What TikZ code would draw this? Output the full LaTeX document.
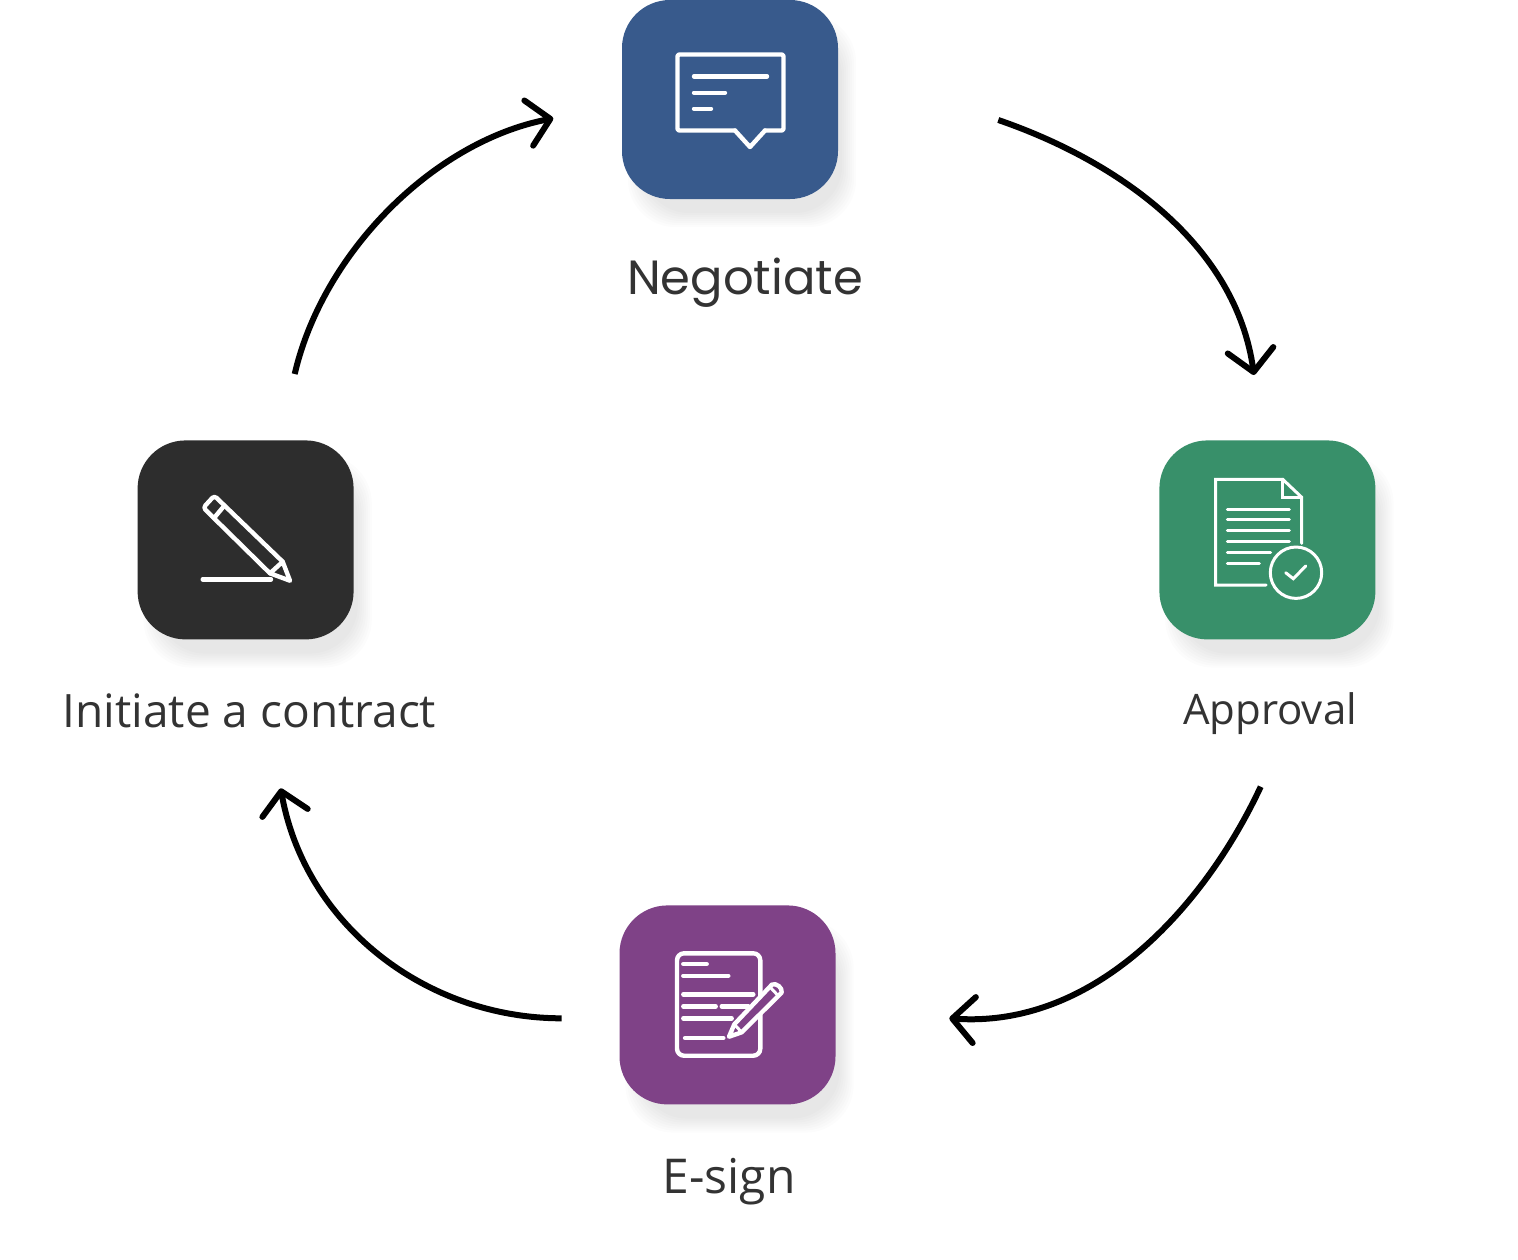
\documentclass[tikz,border=0pt]{standalone}
\usepackage{fontspec}
\setmainfont{Open Sans}
\newfontfamily\negfont{Poppins}
\usetikzlibrary{arrows.meta,positioning,calc,backgrounds}
\definecolor{negblue}{HTML}{385A8C}
\definecolor{appgreen}{HTML}{38906A}
\definecolor{signpurple}{HTML}{7F4287}
\definecolor{initdark}{HTML}{2D2D2D}
\definecolor{labelgray}{HTML}{333333}
\tikzstyle{tile}=[rectangle,rounded corners=48pt,minimum width=216pt,minimum height=199pt,inner sep=0pt]
\tikzstyle{caption}=[text=labelgray,inner sep=0pt,anchor=base]
\tikzstyle{flow}=[line width=6pt,-{Straight Barb[length=22pt,width=46pt,round]},black]
\tikzstyle{glyph}=[white,line width=4.4pt,line cap=round,line join=round]
\tikzstyle{thinglyph}=[white,line width=3pt,line cap=round,line join=miter]
\newcommand{\tileshadow}[1]{%
  \foreach \s in {0,2,...,14} {
    \fill[black,opacity=0.012,rounded corners=48pt]
      ($(#1.north west)+(6+\s,15+\s)$) rectangle ($(#1.south east)+(18-\s,28-\s)$);
  }}
\begin{document}
\begin{tikzpicture}[x=1pt,y=-1pt]
  \useasboundingbox (0,0) rectangle (1518,1259);

  % Tiles
  \node[tile,fill=negblue] (neg) at (730,99.5) {};
  \node[tile,fill=appgreen,below right=241pt and 321pt of neg] (app) {};
  \node[tile,fill=initdark,below left=241pt and 268pt of neg] (init) {};
  \node[tile,fill=signpurple,below=706pt of neg,xshift=-2.5pt] (sign) {};

  \begin{pgfonlayer}{background}
    \fill[white] (0,0) rectangle (1518,1259);
    \tileshadow{neg}
    \tileshadow{app}
    \tileshadow{init}
    \tileshadow{sign}
  \end{pgfonlayer}

  % Captions
  \node[caption,font=\negfont\fontsize{48}{50}\selectfont] (negtext) at (745,294) {Negotiate};
  \node[caption,font=\fontsize{42}{50}\selectfont] (apptext) at (1270,724) {Approval};
  \node[caption,font=\fontsize{46}{50}\selectfont] (inittext) at (249.5,727) {Initiate a contract};
  \node[caption,font=\fontsize{48}{50}\selectfont] (signtext) at (729,1193) {E-sign};

  % Arrows
  \coordinate (a1) at (998.3,120);
  \coordinate (a2) at (1254,375);
  \coordinate (b1) at (1260.7,786.7);
  \coordinate (b2) at (949.3,1018.3);
  \coordinate (c1) at (561.7,1018.3);
  \coordinate (c2) at (280.7,788.3);
  \coordinate (d1) at (294.7,374);
  \coordinate (d2) at (553.3,118.3);

  \path[flow] (a1) edge[out=-19,in=98,looseness=.92] (a2);
  \path[flow] (b1) edge[out=245,in=356,out looseness=.84,in looseness=.98] (b2);
  \path[flow] (c1) edge[out=180,in=280,looseness=.965] (c2);
  \path[flow] (d1) edge[out=77,in=191,looseness=.865] (d2);

  % Negotiate icon
  \draw[glyph,rounded corners=2pt] (735,130.5) -- (677.5,130.5) -- (677.5,54.5) -- (783.5,54.5) -- (783.5,130.5) -- (765,130.5);
  \draw[glyph] (735,130.5) -- (750,147) -- (765,130.5);
  \draw[glyph] (694,76.3) -- (767,76.3);
  \draw[glyph] (694,92.7) -- (725,92.7);
  \draw[glyph] (694,108.7) -- (711,108.7);

  % Approval icon
  \draw[thinglyph] (1266,585) -- (1215.7,585) -- (1215.7,479.3) -- (1282.7,479.3) -- (1301.7,497.3) -- (1301.7,543.3);
  \draw[thinglyph] (1282.7,479.3) -- (1282.7,497.3) -- (1301.7,497.3);
  \foreach \y/\xe in {509/1289.3,519.7/1289.3,530.3/1289.3,541.3/1289.3,552/1270.7,563/1259.3}
    \draw[thinglyph] (1227.3,\y) -- (\xe,\y);
  \draw[thinglyph] (1296,572.7) circle (25.7pt);
  \draw[thinglyph,line cap=round] (1285.7,572.7) -- (1293.3,578.7) -- (1305.7,566);

  % E-sign icon
  \draw[glyph,rounded corners=7pt] (677,953.3) rectangle (760.3,1055.7);
  \foreach \y/\xa/\xe in {964/683.3/706.7,975.7/683.3/728.3,994.3/683.3/753.3,1006.3/683.3/715.7,1006.3/721.7/748.3,1018.3/683.3/731.7,1038/685/723.3}
    \draw[glyph] (\xa,\y) -- (\xe,\y);
  \draw[glyph,fill=signpurple] (729,1036.7) -- (734.3,1024.3) -- (772,984.5) to[bend left=60] (781.7,992.5) -- (741.7,1032.3) -- cycle;
  \draw[glyph,line width=3pt] (734.3,1024.3) -- (741.7,1032.3);
  \draw[glyph,line width=3pt] (770,987) -- (777.5,995);

  % Initiate icon
  \draw[glyph,rounded corners=3pt] (270,573.3) -- (203.3,507.7) -- (214.3,495.7) -- (282.7,561.7);
  \draw[glyph] (282.7,561.7) -- (290,580.7) -- (270,573.3) -- cycle;
  \draw[glyph] (224.3,505.7) -- (214.3,517.7);
  \draw[glyph] (202.7,579.3) -- (271,579.3);
\end{tikzpicture}
\end{document}
